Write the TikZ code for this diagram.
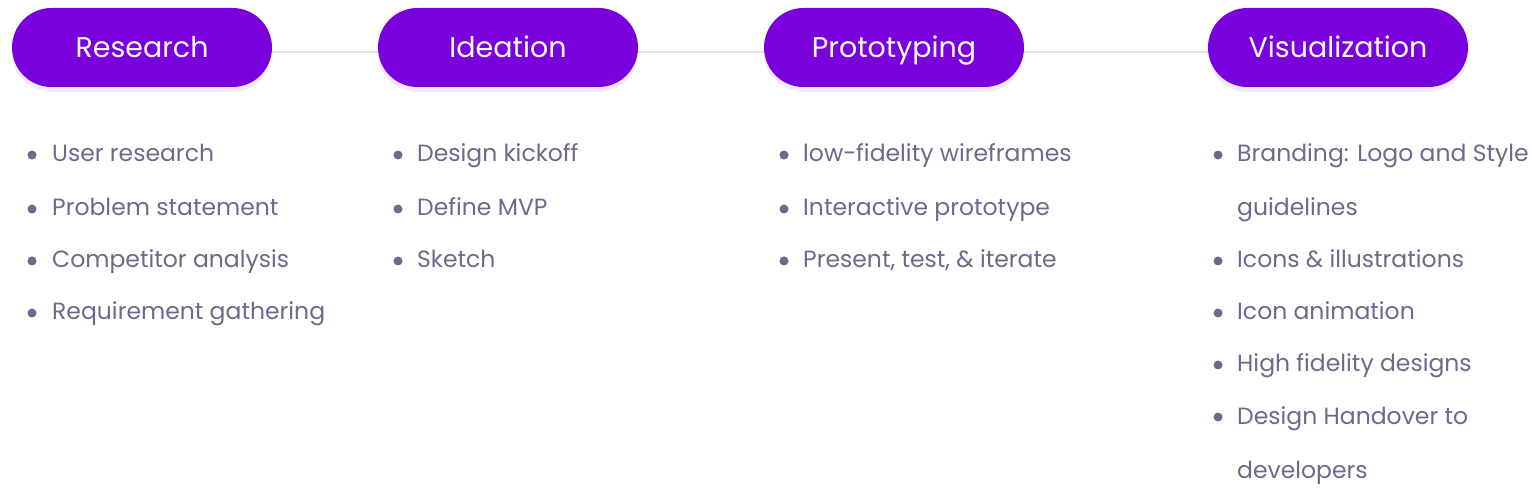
\documentclass[tikz,border=0pt]{standalone}
\usepackage{fontspec}
\setmainfont[Ligatures=NoCommon]{Poppins}
\usetikzlibrary{shadows}
\definecolor{pillpurple}{HTML}{7A00DD}
\definecolor{itemgray}{HTML}{6B6A8C}
\definecolor{linkgray}{HTML}{E2E2F0}
\definecolor{glow}{HTML}{E9D8FA}

\tikzset{
  stage/.style={rectangle, rounded corners=39.5pt, fill=pillpurple, text=white,
    minimum width=260pt, minimum height=79pt, inner sep=0pt,
    text height=27pt, text depth=6pt,
    font=\fontsize{28.5}{32}\selectfont,
    drop shadow={shadow xshift=0pt, shadow yshift=-5pt, fill=glow, opacity=0.6}},
  item/.style={anchor=base west, text=itemgray, inner sep=0pt,
    font=\fontsize{23.5}{28}\selectfont},
  link/.style={linkgray, line width=2pt}
}

\begin{document}
\begin{tikzpicture}[x=1pt, y=-1pt]
  \useasboundingbox (0,0) rectangle (1532,494);
  % stages
  \node[stage] (research) at (142,47.5) {Research};
  \node[stage] (ideation) at (508,47.5) {Ideation};
  \node[stage] (prototyping) at (894,47.5) {Prototyping};
  \node[stage] (visualization) at (1338,47.5) {Visualization};
  % lines between the stages
  \draw[link] ([yshift=-4.5pt]research.east) -- ([yshift=-4.5pt]ideation.west);
  \draw[link] ([yshift=-4.5pt]ideation.east) -- ([yshift=-4.5pt]prototyping.west);
  \draw[link] ([yshift=-4.5pt]prototyping.east) -- ([yshift=-4.5pt]visualization.west);
  % research items
  \foreach \y/\t in {162/User research, 216/Problem statement, 268/Competitor analysis, 320/Requirement gathering} {
    \fill[itemgray] (32,\y-7) circle [radius=4.5];
    \node[item] at (52,\y) {\t};
  }
  % ideation items
  \foreach \y/\t in {162/Design kickoff, 216/Define MVP, 268/Sketch} {
    \fill[itemgray] (398,\y-7) circle [radius=4.5];
    \node[item] at (417,\y) {\t};
  }
  % prototyping items
  \foreach \y/\t in {162/low-fidelity wireframes, 216/Interactive prototype, 268/{Present, test, \& iterate}} {
    \fill[itemgray] (784,\y-7) circle [radius=4.5];
    \node[item] at (803,\y) {\t};
  }
  % visualization items
  \foreach \y in {162, 268, 320, 372, 424} \fill[itemgray] (1218,\y-7) circle [radius=4.5];
  \foreach \y/\t in {162/Branding: Logo and Style, 216/guidelines, 268/Icons \& illustrations, 320/Icon animation, 372/High fidelity designs, 424/Design Handover to, 478/developers}
    \node[item] at (1237,\y) {\t};
\end{tikzpicture}
\end{document}
